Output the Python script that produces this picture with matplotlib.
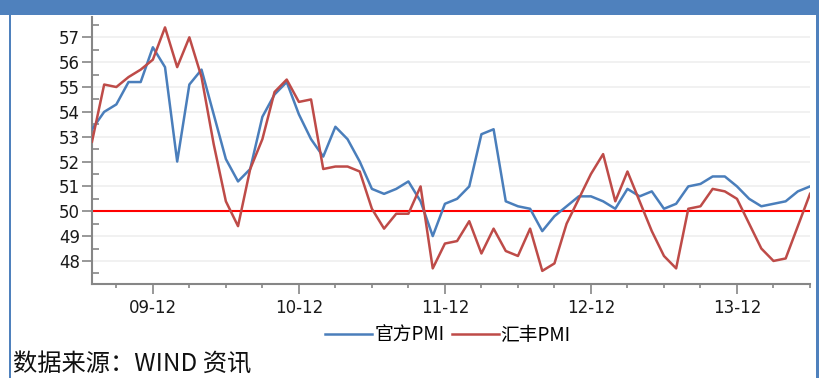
import matplotlib
matplotlib.use("Agg")
import matplotlib.pyplot as plt
from matplotlib.patches import Rectangle
from matplotlib.ticker import FixedLocator

# Monthly data, Jul 2009 .. Jun 2014
start_year, start_month = 2009, 7
official_pmi = [53.3, 54.0, 54.3, 55.2, 55.2, 56.6,
                55.8, 52.0, 55.1, 55.7, 53.9, 52.1, 51.2, 51.7, 53.8, 54.7, 55.2, 53.9,
                52.9, 52.2, 53.4, 52.9, 52.0, 50.9, 50.7, 50.9, 51.2, 50.4, 49.0, 50.3,
                50.5, 51.0, 53.1, 53.3, 50.4, 50.2, 50.1, 49.2, 49.8, 50.2, 50.6, 50.6,
                50.4, 50.1, 50.9, 50.6, 50.8, 50.1, 50.3, 51.0, 51.1, 51.4, 51.4, 51.0,
                50.5, 50.2, 50.3, 50.4, 50.8, 51.0]
hsbc_pmi = [52.8, 55.1, 55.0, 55.4, 55.7, 56.1,
            57.4, 55.8, 57.0, 55.4, 52.7, 50.4, 49.4, 51.7, 52.9, 54.8, 55.3, 54.4,
            54.5, 51.7, 51.8, 51.8, 51.6, 50.1, 49.3, 49.9, 49.9, 51.0, 47.7, 48.7,
            48.8, 49.6, 48.3, 49.3, 48.4, 48.2, 49.3, 47.6, 47.9, 49.5, 50.5, 51.5,
            52.3, 50.4, 51.6, 50.4, 49.2, 48.2, 47.7, 50.1, 50.2, 50.9, 50.8, 50.5,
            49.5, 48.5, 48.0, 48.1, 49.4, 50.7]
series_names = ["官方PMI", "汇丰PMI"]
threshold = 50
y_ticks = list(range(48, 58))
source_text = "数据来源：WIND 资讯"

n = len(official_pmi)
x = list(range(n))
month_labels = []
for i in range(n):
    m = start_month - 1 + i
    yy = (start_year + m // 12) % 100
    mm = m % 12 + 1
    month_labels.append(f"{yy:02d}-{mm:02d}")
major_idx = [i for i, s in enumerate(month_labels) if s.endswith("-12")]
minor_idx = [i for i, s in enumerate(month_labels) if int(s[-2:]) % 3 == 0]

cjk = ["Noto Sans CJK SC", "DejaVu Sans"]
plt.rcParams["font.family"] = cjk

W, H = 820, 378
fig = plt.figure(figsize=(W / 100, H / 100), dpi=100)
fig.patch.set_facecolor("white")

# frame decoration
frame_col = "#4F81BD"
fig.patches.append(Rectangle((0, 1 - 15 / H), 1, 15 / H, transform=fig.transFigure,
                             facecolor=frame_col, edgecolor="none", zorder=0))
fig.patches.append(Rectangle((8.5 / W, 0), 2.5 / W, 1, transform=fig.transFigure,
                             facecolor=frame_col, edgecolor="none", zorder=0))
fig.patches.append(Rectangle((816.5 / W, 0), 3.5 / W, 1, transform=fig.transFigure,
                             facecolor=frame_col, edgecolor="none", zorder=0))

ax_l, ax_r, ax_t, ax_b = 92, 810, 16.7, 284.3
ax = fig.add_axes([ax_l / W, 1 - ax_b / H, (ax_r - ax_l) / W, (ax_b - ax_t) / H])
ax.set_facecolor("none")

gray = "#868686"
ax.set_xlim(0, n - 1)
ax.set_ylim(47.06, 57.83)
ax.set_yticks(y_ticks)
ax.yaxis.set_minor_locator(FixedLocator([v + 0.5 for v in range(47, 58)]))
ax.set_xticks(major_idx)
ax.set_xticklabels([month_labels[i] for i in major_idx])
ax.xaxis.set_minor_locator(FixedLocator(minor_idx))

for sp in ["top", "right"]:
    ax.spines[sp].set_visible(False)
for sp in ["left", "bottom"]:
    ax.spines[sp].set_color(gray)
    ax.spines[sp].set_linewidth(1.5)

ax.tick_params(axis="y", which="major", direction="out", length=7, width=1.2,
               color=gray, labelsize=12, labelcolor="#1a1a1a", pad=1.5)
ax.tick_params(axis="y", which="minor", direction="in", length=5, width=1.2, color=gray)
ax.tick_params(axis="x", which="major", direction="out", length=7, width=1.2,
               color=gray, labelsize=12, labelcolor="#1a1a1a", pad=3.5)
ax.tick_params(axis="x", which="minor", direction="out", length=3, width=1.2, color=gray)
for lab in ax.get_xticklabels() + ax.get_yticklabels():
    lab.set_family(["DejaVu Sans"])

ax.yaxis.grid(True, which="major", color="#EFEFEF", linewidth=1.2, zorder=0)
ax.set_axisbelow(True)

ax.axhline(threshold, color="#FF0000", linewidth=1.5, zorder=2)
l1, = ax.plot(x, official_pmi, color="#4A7EBB", linewidth=1.8, label=series_names[0], zorder=3)
l2, = ax.plot(x, hsbc_pmi, color="#BE4B48", linewidth=1.8, label=series_names[1], zorder=4)

fig.legend(handles=[l1, l2], loc="center", bbox_to_anchor=(448 / W, 1 - 335 / H),
           ncol=2, frameon=False, fontsize=13.5, handlelength=2.5, handletextpad=0.1,
           columnspacing=0.4, borderaxespad=0)

fig.text(13 / W, 1 - 365 / H, source_text, fontsize=17.5, va="center", ha="left",
         color="#111111", family=cjk)

fig.savefig("out.png", dpi=100, facecolor="white")
